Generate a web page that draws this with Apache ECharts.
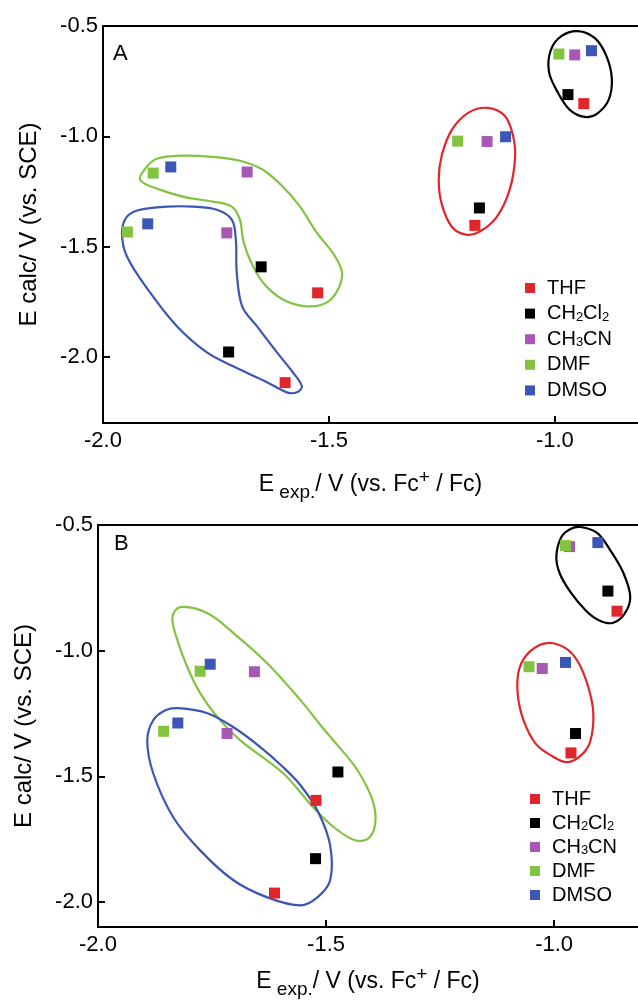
<!DOCTYPE html>
<html>
<head>
<meta charset="utf-8">
<script src="https://cdn.jsdelivr.net/npm/echarts@6/dist/echarts.min.js"></script>
<style>
  html, body { margin: 0; padding: 0; background: #fff; }
  #chart { width: 638px; height: 1003px; }
</style>
</head>
<body>
<div id="chart"></div>
<script>
var font = 'Liberation Sans, Arial, sans-serif';
var solvents = ['THF', 'CH2Cl2', 'CH3CN', 'DMF', 'DMSO'];
var colors = ['#e0262b', '#000000', '#a857b5', '#82c341', '#3b56b4'];

// panel A points [Eexp, Ecalc]
var thfA    = [[-0.936, -0.852], [-1.177, -1.404], [-1.525, -1.710], [-1.597, -2.117]];
var ch2cl2A = [[-0.971, -0.811], [-1.167, -1.325], [-1.650, -1.592], [-1.722, -1.978]];
var ch3cnA  = [[-0.956, -0.631], [-1.150, -1.024], [-1.681, -1.162], [-1.726, -1.438]];
var dmfA    = [[-0.991, -0.627], [-1.215, -1.022], [-1.889, -1.167], [-1.946, -1.434]];
var dmsoA   = [[-0.919, -0.612], [-1.109, -1.002], [-1.850, -1.139], [-1.901, -1.397]];

// panel B points
var thfB    = [[-0.862, -0.843], [-0.963, -1.407], [-1.522, -1.596], [-1.613, -1.965]];
var ch2cl2B = [[-0.882, -0.763], [-0.953, -1.330], [-1.474, -1.483], [-1.523, -1.828]];
var ch3cnB  = [[-0.966, -0.586], [-1.026, -1.071], [-1.657, -1.084], [-1.717, -1.330]];
var dmfB    = [[-0.975, -0.582], [-1.055, -1.064], [-1.776, -1.082], [-1.856, -1.321]];
var dmsoB   = [[-0.904, -0.570], [-0.975, -1.047], [-1.754, -1.054], [-1.825, -1.288]];

// hand drawn outlines
var blackRingA = [[-0.949, -0.523], [-0.912, -0.554], [-0.887, -0.631], [-0.874, -0.735], [-0.881, -0.835], [-0.907, -0.898],
  [-0.934, -0.912], [-0.967, -0.880], [-0.993, -0.803], [-1.013, -0.708], [-1.009, -0.609], [-0.985, -0.545]];
var redRingA = [[-1.150, -0.871], [-1.111, -0.907], [-1.093, -0.993], [-1.088, -1.097], [-1.100, -1.242], [-1.128, -1.364],
  [-1.166, -1.432], [-1.197, -1.446], [-1.228, -1.410], [-1.250, -1.310], [-1.257, -1.197], [-1.250, -1.084], [-1.228, -0.971], [-1.192, -0.894]];
var greenRingA = [[-1.918, -1.197], [-1.903, -1.138], [-1.881, -1.102], [-1.830, -1.088], [-1.757, -1.093], [-1.697, -1.111],
  [-1.646, -1.152], [-1.602, -1.229], [-1.564, -1.319], [-1.527, -1.437], [-1.489, -1.536], [-1.471, -1.618], [-1.480, -1.695],
  [-1.504, -1.753], [-1.549, -1.771], [-1.602, -1.740], [-1.646, -1.663], [-1.675, -1.559], [-1.690, -1.468], [-1.697, -1.378],
  [-1.715, -1.319], [-1.757, -1.296], [-1.814, -1.278], [-1.874, -1.242]];
var blueRingA = [[-1.958, -1.437], [-1.947, -1.364], [-1.918, -1.333], [-1.858, -1.319], [-1.801, -1.319], [-1.748, -1.333],
  [-1.715, -1.378], [-1.706, -1.468], [-1.704, -1.618], [-1.692, -1.771], [-1.659, -1.862], [-1.615, -1.980], [-1.580, -2.070],
  [-1.560, -2.133], [-1.571, -2.161], [-1.593, -2.161], [-1.637, -2.115], [-1.712, -2.043], [-1.770, -1.980], [-1.836, -1.862],
  [-1.896, -1.708], [-1.947, -1.545]];

var blackRingB = [[-0.942, -0.508], [-0.905, -0.532], [-0.877, -0.600], [-0.848, -0.691], [-0.833, -0.787], [-0.846, -0.855],
  [-0.872, -0.890], [-0.903, -0.878], [-0.931, -0.839], [-0.964, -0.767], [-0.988, -0.691], [-0.995, -0.624], [-0.984, -0.548], [-0.964, -0.516]];
var redRingB = [[-1.015, -0.970], [-0.975, -0.990], [-0.947, -1.046], [-0.925, -1.145], [-0.914, -1.249], [-0.920, -1.357],
  [-0.938, -1.412], [-0.971, -1.444], [-1.008, -1.416], [-1.041, -1.369], [-1.067, -1.277], [-1.080, -1.169], [-1.076, -1.070], [-1.052, -1.002]];
var greenRingB = [[-1.820, -0.827], [-1.760, -0.851], [-1.703, -0.930], [-1.629, -1.050], [-1.556, -1.197], [-1.512, -1.297],
  [-1.475, -1.376], [-1.431, -1.476], [-1.398, -1.596], [-1.392, -1.687], [-1.407, -1.747], [-1.436, -1.755], [-1.480, -1.707],
  [-1.528, -1.624], [-1.594, -1.488], [-1.688, -1.357], [-1.738, -1.265], [-1.776, -1.169], [-1.804, -1.066], [-1.826, -0.958], [-1.837, -0.867]];
var blueRingB = [[-1.824, -1.229], [-1.760, -1.249], [-1.703, -1.305], [-1.644, -1.384], [-1.594, -1.464], [-1.556, -1.536],
  [-1.517, -1.643], [-1.491, -1.775], [-1.491, -1.914], [-1.519, -1.982], [-1.556, -2.014], [-1.629, -1.982], [-1.703, -1.914],
  [-1.776, -1.795], [-1.835, -1.663], [-1.879, -1.488], [-1.892, -1.357], [-1.879, -1.277], [-1.852, -1.237]];

var legendText = {
  'THF': '{n|THF}',
  'CH2Cl2': '{n|CH}{s|2}{n|Cl}{s|2}',
  'CH3CN': '{n|CH}{s|3}{n|CN}',
  'DMF': '{n|DMF}',
  'DMSO': '{n|DMSO}'
};

var chart = echarts.init(document.getElementById('chart'));

function xBottom(grid, gap) {
  return {
    type: 'value', gridIndex: grid, position: 'bottom',
    min: -2, max: -0.816, minInterval: 0.5, maxInterval: 0.5,
    axisLine: { onZero: false, lineStyle: { color: '#000', width: 2 } },
    axisTick: { inside: true, length: 7, lineStyle: { color: '#000', width: 2 } },
    axisLabel: { showMaxLabel: false, margin: 7, fontSize: 22, color: '#000', fontFamily: font,
      formatter: function (v) { return v.toFixed(1); } },
    splitLine: { show: false },
    name: '{m|E}{s| exp.}{m|/ V (vs. Fc}{p|+}{m| / Fc)}',
    nameLocation: 'middle', nameGap: gap,
    nameTextStyle: {
      rich: {
        m: { fontSize: 23, lineHeight: 34, fontFamily: font, color: '#000' },
        s: { fontSize: 19, lineHeight: 18, verticalAlign: 'bottom', fontFamily: font, color: '#000' },
        p: { fontSize: 19, lineHeight: 18, verticalAlign: 'top', fontFamily: font, color: '#000' }
      }
    }
  };
}
function xTop(grid) {
  return {
    type: 'value', gridIndex: grid, position: 'top', min: -2, max: -0.816,
    axisLine: { onZero: false, lineStyle: { color: '#000', width: 2 } },
    axisTick: { show: false }, axisLabel: { show: false }, splitLine: { show: false }
  };
}
function yLeft(grid, min, gap) {
  return {
    type: 'value', gridIndex: grid, min: min, max: -0.5, minInterval: 0.5, maxInterval: 0.5,
    axisLine: { onZero: false, lineStyle: { color: '#000', width: 2 } },
    axisTick: { inside: true, length: 7, lineStyle: { color: '#000', width: 2 } },
    axisLabel: { showMinLabel: false, margin: 5, fontSize: 22, color: '#000', fontFamily: font,
      formatter: function (v) { return v.toFixed(1); } },
    splitLine: { show: false },
    name: 'E calc/ V (vs. SCE)', nameLocation: 'middle', nameGap: gap,
    nameTextStyle: { fontSize: 24, color: '#000', fontFamily: font }
  };
}

function ring(points, color, axis) {
  return {
    type: 'custom', xAxisIndex: axis * 2, yAxisIndex: axis, silent: true, z: 1,
    data: points,
    renderItem: function (params, api) {
      if (params.dataIndex !== 0) return;
      var pts = points.map(function (p) { return api.coord(p); });
      return {
        type: 'polygon',
        shape: { points: pts, smooth: 0.35 },
        style: { fill: 'none', stroke: color, lineWidth: 2.2 }
      };
    }
  };
}

var dataA = [thfA, ch2cl2A, ch3cnA, dmfA, dmsoA];
var dataB = [thfB, ch2cl2B, ch3cnB, dmfB, dmsoB];
var series = [
  ring(blackRingA, colors[1], 0), ring(redRingA, colors[0], 0),
  ring(greenRingA, colors[3], 0), ring(blueRingA, colors[4], 0),
  ring(blackRingB, colors[1], 1), ring(redRingB, colors[0], 1),
  ring(greenRingB, colors[3], 1), ring(blueRingB, colors[4], 1)
];
solvents.forEach(function (name, i) {
  series.push({ name: name, type: 'scatter', xAxisIndex: 0, yAxisIndex: 0, symbol: 'rect', symbolSize: 11,
    itemStyle: { color: colors[i], opacity: 1 }, data: dataA[i], z: 3 });
});
solvents.forEach(function (name, i) {
  series.push({ name: name, type: 'scatter', xAxisIndex: 2, yAxisIndex: 1, symbol: 'rect', symbolSize: 11,
    itemStyle: { color: colors[i], opacity: 1 }, data: dataB[i], z: 3 });
});

function legend(left, top, gap) {
  return {
    data: solvents, orient: 'vertical', left: left, top: top, padding: 0,
    icon: 'rect', itemWidth: 10, itemHeight: 10, itemGap: gap, selectedMode: false,
    formatter: function (name) { return '{g|}' + legendText[name]; },
    textStyle: {
      lineHeight: 20,
      rich: {
        g: { width: 7 },
        n: { fontSize: 20, lineHeight: 20, fontFamily: font, color: '#000' },
        s: { fontSize: 13, lineHeight: 12, verticalAlign: 'bottom', fontFamily: font, color: '#000' }
      }
    }
  };
}

chart.setOption({
  animation: false,
  backgroundColor: '#fff',
  title: [
    { text: 'A', left: 113, top: 43, padding: 0, textStyle: { fontSize: 22, fontWeight: 'normal', color: '#000', fontFamily: font } },
    { text: 'B', left: 114, top: 533, padding: 0, textStyle: { fontSize: 22, fontWeight: 'normal', color: '#000', fontFamily: font } }
  ],
  legend: [legend(525, 278, 5.6), legend(530, 789, 4)],
  grid: [
    { left: 103, top: 26, width: 535, height: 397 },
    { left: 98, top: 525, width: 540, height: 402 }
  ],
  xAxis: [xBottom(0, 45), xTop(0), xBottom(1, 38), xTop(1)],
  yAxis: [yLeft(0, -2.3, 62), yLeft(1, -2.1, 62)],
  series: series
});
</script>
</body>
</html>
